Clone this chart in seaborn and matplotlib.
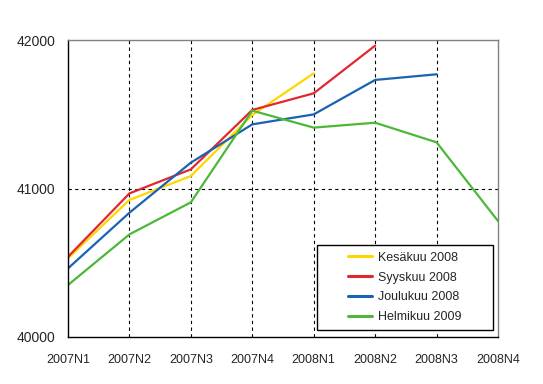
import pandas as pd
import matplotlib
matplotlib.use("Agg")
import matplotlib.pyplot as plt
from matplotlib.patches import Rectangle
import seaborn as sns

quarters = ["2007N1", "2007N2", "2007N3", "2007N4", "2008N1", "2008N2", "2008N3", "2008N4"]
kesakuu_2008 = [40530, 40923, 41084, 41495, 41776]
syyskuu_2008 = [40540, 40967, 41129, 41529, 41641, 41962]
joulukuu_2008 = [40462, 40837, 41174, 41432, 41499, 41731, 41769]
helmikuu_2009 = [40350, 40691, 40907, 41524, 41410, 41443, 41311, 40781]

series = {
    "Kesäkuu 2008": kesakuu_2008,
    "Syyskuu 2008": syyskuu_2008,
    "Joulukuu 2008": joulukuu_2008,
    "Helmikuu 2009": helmikuu_2009,
}
colors = ["#FFD700", "#E0282E", "#1A62B4", "#4CB838"]

rows = []
for name, vals in series.items():
    for i, v in enumerate(vals):
        rows.append({"quarter": quarters[i], "pos": i, "value": v, "series": name})
df = pd.DataFrame(rows)

sns.set_style("white")
plt.rcParams["font.family"] = ["Liberation Sans", "DejaVu Sans"]

fig = plt.figure(figsize=(5.43, 3.84), dpi=100)
ax = fig.add_axes([68 / 543, 1 - 337 / 384, 430 / 543, 297 / 384])

sns.lineplot(data=df, x="pos", y="value", hue="series", palette=colors,
             linewidth=1.6, ax=ax, legend=True)

ax.set_xlim(0, len(quarters) - 1)
ax.set_ylim(40000, 42000)
ax.set_xticks(range(len(quarters)))
ax.set_xticklabels(quarters)
ax.set_yticks([40000, 41000, 42000])
ax.set_xlabel("")
ax.set_ylabel("")
ax.tick_params(axis="x", length=0, labelsize=9, pad=12)
ax.tick_params(axis="y", length=0, labelsize=10, pad=9)

# dashed grid
for i in range(1, len(quarters) - 1):
    ax.axvline(i, color="black", linestyle=(0, (3, 3)), linewidth=0.8, zorder=0)
ax.axhline(41000, color="black", linestyle=(0, (3, 3)), linewidth=0.8, zorder=0)

for side in ["left", "bottom"]:
    ax.spines[side].set_color("black")
    ax.spines[side].set_linewidth(1)
for side in ["top", "right"]:
    ax.spines[side].set_color("#808080")
    ax.spines[side].set_linewidth(1)

# legend box drawn separately so the padding can be wide on the sides
box = Rectangle((0.579, 0.024), 0.409, 0.286, transform=ax.transAxes,
                facecolor="white", edgecolor="black", linewidth=1, zorder=4)
ax.add_patch(box)

leg = ax.legend(loc="center", bbox_to_anchor=(0.7835, 0.167), fontsize=9,
                frameon=False, labelspacing=0.62, handlelength=1.95,
                handletextpad=0.5, borderpad=0)
leg.set_zorder(5)
for line in leg.get_lines():
    line.set_linewidth(2.2)

fig.savefig("out.png", dpi=100)
